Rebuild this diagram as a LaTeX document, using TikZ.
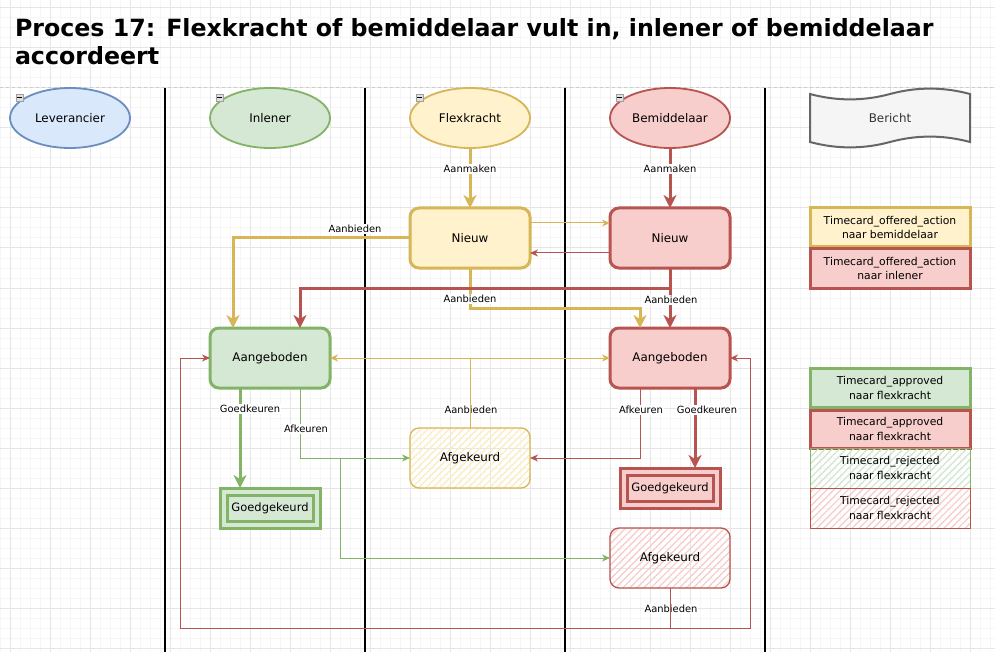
\documentclass[tikz,border=0pt]{standalone}
\usepackage{fontspec}
\setmainfont{DejaVu Sans}
\usetikzlibrary{arrows.meta,patterns.meta,calc,shapes.geometric}
\definecolor{yF}{HTML}{FFF2CC}
\definecolor{yS}{HTML}{D6B656}
\definecolor{rF}{HTML}{F8CECC}
\definecolor{rS}{HTML}{B85450}
\definecolor{gF}{HTML}{D5E8D4}
\definecolor{gS}{HTML}{82B366}
\definecolor{bF}{HTML}{DAE8FC}
\definecolor{bS}{HTML}{6C8EBF}
\definecolor{tF}{HTML}{F5F5F5}
\definecolor{tS}{HTML}{666666}
\definecolor{tT}{HTML}{333333}
\definecolor{yH}{HTML}{FCEBBB}
\definecolor{rH}{HTML}{F6CBC8}
\definecolor{gH}{HTML}{CFE5CD}
\definecolor{gridminor}{HTML}{F6F6F6}
\definecolor{gridmajor}{HTML}{E6E6E6}
\begin{document}
\begin{tikzpicture}[x=1pt,y=-1pt,
  every node/.style={inner sep=0pt, outer sep=0pt},
  nodetext/.style={font=\fontsize{11.9}{14}\selectfont},
  laneell/.style={ellipse, line width=1.8pt, minimum width=120pt, minimum height=60pt, nodetext},
  stbox/.style={rectangle, rounded corners=9pt, line width=3pt, minimum width=120pt, minimum height=60pt, nodetext},
  hatchbox/.style={rectangle, rounded corners=9pt, line width=1.3pt, minimum width=120pt, minimum height=60pt, nodetext,
     pattern={Lines[angle=45,distance=5pt,line width=1.2pt]}},
  dblbox/.style={rectangle, line width=3pt, double distance=4pt, minimum width=93pt, minimum height=33pt, outer sep=3.5pt, font=\fontsize{11.5}{14}\selectfont},
  legbox/.style={rectangle, minimum width=160pt, align=center, font=\fontsize{10.8}{14.7}\selectfont},
  lbl/.style={fill=white, inner sep=1pt, font=\fontsize{9.9}{11}\selectfont},
  thickY/.style={draw=yS, line width=3pt, -{Stealth[length=13pt,width=13pt,inset=4pt]}},
  thickR/.style={draw=rS, line width=3pt, -{Stealth[length=13pt,width=13pt,inset=4pt]}},
  thickG/.style={draw=gS, line width=3pt, -{Stealth[length=13pt,width=13pt,inset=4pt]}},
  thinY/.style={draw=yS, line width=1pt, -{Stealth[length=8pt,width=7pt,inset=2.5pt]}},
  thinR/.style={draw=rS, line width=1pt, -{Stealth[length=8pt,width=7pt,inset=2.5pt]}},
  thinG/.style={draw=gS, line width=1pt, -{Stealth[length=8pt,width=7pt,inset=2.5pt]}},
]
\useasboundingbox (0,0) rectangle (995,652);
\fill[white] (0,0) rectangle (995,652);
% grid
\foreach \x in {0,10,...,990} \draw[gridminor, line width=1pt] (\x,0) -- (\x,652);
\foreach \y in {8,18,...,648} \draw[gridminor, line width=1pt] (0,\y) -- (995,\y);
\foreach \x in {10,50,...,970} \draw[gridmajor, line width=1pt] (\x,0) -- (\x,652);
\foreach \y in {8,48,...,648} \draw[gridmajor, line width=1pt] (0,\y) -- (995,\y);

% title
\node[anchor=north west, align=left, font=\bfseries\fontsize{23.7}{28.5}\selectfont] (title) at (15,18)
  {Proces 17: Flexkracht of bemiddelaar vult in, inlener of bemiddelaar\\accordeert};

% lanes
\draw[gray!40, line width=1pt, dash pattern=on 3pt off 3pt] (0,88) -- (995,88);
\foreach \x in {165,365,565,765} \draw[black, line width=2pt] (\x,88) -- (\x,652);

% lane headers
\node[laneell, draw=bS, fill=bF] (lev) at (70,118) {Leverancier};
\node[laneell, draw=gS, fill=gF] (inl) at (270,118) {Inlener};
\node[laneell, draw=yS, fill=yF] (flx) at (470,118) {Flexkracht};
\node[laneell, draw=rS, fill=rF] (bem) at (670,118) {Bemiddelaar};
\filldraw[fill=tF, draw=tS, line width=2pt] (810,94) .. controls (836.67,101.2) and (863.33,101.2) .. (890,94)
  .. controls (916.67,86.8) and (943.33,86.8) .. (970,94) -- (970,142)
  .. controls (943.33,134.8) and (916.67,134.8) .. (890,142)
  .. controls (863.33,149.2) and (836.67,149.2) .. (810,142) -- cycle;
\node[nodetext, text=tT] (ber) at (890,118) {Bericht};

% collapse icons
\foreach \x in {0,200,400,600} {
  \draw[fill=gray!25, draw=gray!75, line width=0.7pt] (\x+16,94) rectangle (\x+23,101);
  \draw[black, line width=0.8pt] (\x+17.3,97.5) -- (\x+21.7,97.5);
}

% states
\node[stbox, draw=yS, fill=yF] (fnieuw) at (470,238) {Nieuw};
\node[stbox, draw=rS, fill=rF] (bnieuw) at (670,238) {Nieuw};
\node[stbox, draw=gS, fill=gF] (iaang) at (270,358) {Aangeboden};
\node[stbox, draw=rS, fill=rF] (baang) at (670,358) {Aangeboden};
\node[hatchbox, draw=yS, pattern color=yH] (fafg) at (470,458) {Afgekeurd};
\node[hatchbox, draw=rS, pattern color=rH] (bafg) at (670,558) {Afgekeurd};
\node[dblbox, draw=gS, double=gF, fill=gF] (igoed) at (270,508) {Goedgekeurd};
\node[dblbox, draw=rS, double=rF, fill=rF] (bgoed) at (670,488) {Goedgekeurd};

% legend
\node[legbox, draw=yS, fill=yF, line width=3pt, minimum height=39pt] (l1) at (890,227.5) {Timecard\_offered\_action\\naar bemiddelaar};
\node[legbox, draw=rS, fill=rF, line width=3pt, minimum height=39pt] (l2) at (890,268.5) {Timecard\_offered\_action\\naar inlener};
\node[legbox, draw=gS, fill=gF, line width=3pt, minimum height=39.5pt] (l3) at (890,388) {Timecard\_approved\\naar flexkracht};
\node[legbox, draw=rS, fill=rF, line width=3pt, minimum height=38pt] (l4) at (890,429) {Timecard\_approved\\naar flexkracht};
\node[legbox, draw=gS, line width=1pt, minimum height=40pt, pattern={Lines[angle=45,distance=5pt,line width=1.2pt]}, pattern color=gH] (l5) at (890,468) {Timecard\_rejected\\naar flexkracht};
\node[legbox, draw=rS, line width=1pt, minimum height=40pt, pattern={Lines[angle=45,distance=5pt,line width=1.2pt]}, pattern color=rH] (l6) at (890,508) {Timecard\_rejected\\naar flexkracht};

% connectors
\draw[thickY] (flx) -- (fnieuw) node[lbl] at (470,169) {Aanmaken};
\draw[thickR] (bem) -- (bnieuw) node[lbl] at (670,169) {Aanmaken};
\draw[thinY] ($(fnieuw.east)+(0,-15)$) -- ($(bnieuw.west)+(0,-15)$);
\draw[thinR] ($(bnieuw.west)+(0,15)$) -- ($(fnieuw.east)+(0,15)$);
\draw[thickY] (fnieuw.west) -| ($(iaang.north west)+(23,0)$) node[lbl] at (355,229) {Aanbieden};
\draw[thickY] (fnieuw.south) -- ++(0,40) -| ($(baang.north)+(-30,0)$) node[lbl] at (470,299) {Aanbieden};
\draw[thickR] (bnieuw.south) -- ++(0,20) -| ($(iaang.north)+(30,0)$);
\draw[thickR] (bnieuw) -- (baang) node[lbl] at (671,300) {Aanbieden};
\draw[thinY] (fafg.north) |- (iaang.east) node[lbl] at (471,410) {Aanbieden};
\draw[thinY] (fafg.north) |- (baang.west);
\draw[thickG] ($(iaang.south)+(-30,0)$) -- ($(igoed.north)+(-30,0)$) node[lbl] at (250,409) {Goedkeuren};
\draw[thinG] ($(iaang.south)+(30,0)$) |- (fafg.west) node[lbl] at (306,429) {Afkeuren};
\coordinate (gsplit) at (340,458);
\draw[thinG] (gsplit) |- (bafg.west);
\draw[thinR] ($(baang.south)+(-30,0)$) |- (fafg.east) node[lbl] at (641,410) {Afkeuren};
\draw[thickR] ($(baang.south)+(25,0)$) -- ($(bgoed.north)+(25,0)$) node[lbl] at (707,410) {Goedkeuren};
\draw[thinR] (bafg.south) -- ++(0,40) -| ($(iaang.west)+(-30,0)$) -- (iaang.west) node[lbl] at (671,609) {Aanbieden};
\draw[thinR] (bafg.south) -- ++(0,40) -| ($(baang.east)+(20,0)$) -- (baang.east);
\end{tikzpicture}
\end{document}
